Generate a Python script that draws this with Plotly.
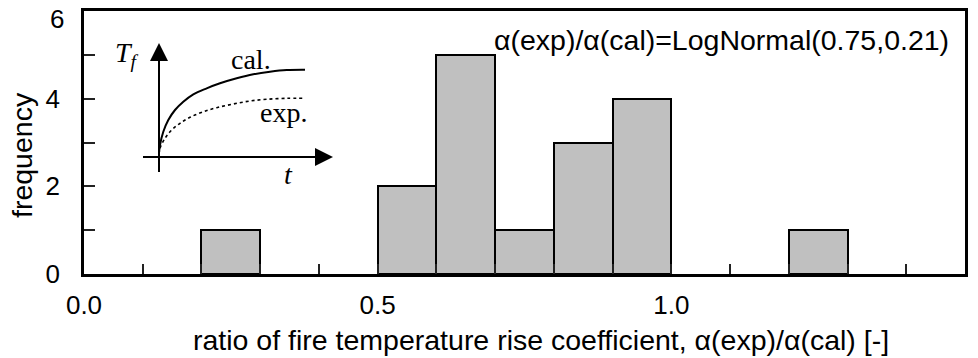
import plotly.graph_objects as go

# ---- data ----
bin_start = [0.2, 0.5, 0.6, 0.7, 0.8, 0.9, 1.2]
bin_width = 0.1
counts = [1, 2, 5, 1, 3, 4, 1]

x_tick_vals = [0.0, 0.5, 1.0, 1.5]
y_tick_vals = [0, 2, 4]
y_top_label = "6"

fit_text = "α(exp)/α(cal)=LogNormal(0.75,0.21)"
x_title = "ratio of fire temperature rise coefficient, α(exp)/α(cal) [-]"
y_title = "frequency"

# inset schematic curves (inset units)
cal_t = [0, 1, 4.3, 9.3, 16, 24.3, 34.3, 47.7, 61, 77.7, 94.3, 111, 127.7, 146]
cal_T = [4, 12, 25.3, 37, 47, 55.3, 62.7, 68.7, 73.7, 78.7, 82.7, 85.3, 87, 87.3]
exp_t = [0, 1, 6, 12.7, 21, 31, 44.3, 57.7, 74.3, 91, 107.7, 127.7, 146]
exp_T = [3, 8.7, 18.7, 27, 33.7, 39.7, 45.3, 49.3, 53, 56, 57.7, 58.7, 58.7]

# inset axes (schematic, inset units)
inset_t_axis_x = [-16, 160]
inset_t_axis_y = [0, 0]
inset_T_axis_x = [0, 0]
inset_T_axis_y = [-15, 100]
arrow_tip_x = [174, 0]
arrow_tip_y = [0, 114]
arrow_symbols = ["arrow-right", "arrow-up"]

# ---- layout geometry (pixels) ----
W, H = 978, 358
L, R, T, B = 84, 13, 11, 84
PW, PH = W - L - R, H - T - B
X0_PX, Y0_PX = 159, 157  # inset origin

def px_x(p):
    return (p - L) / PW

def px_y(p):
    return (H - B - p) / PH

fig = go.Figure()

fig.add_trace(go.Bar(
    x=[s + bin_width / 2 for s in bin_start], y=counts, width=bin_width,
    marker=dict(color="#c0c0c0", line=dict(color="black", width=2)),
    showlegend=False, hoverinfo="skip",
))

# inset axes
for xs, ys in [(inset_t_axis_x, inset_t_axis_y), (inset_T_axis_x, inset_T_axis_y)]:
    fig.add_trace(go.Scatter(
        x=xs, y=ys, mode="lines", xaxis="x2", yaxis="y2",
        line=dict(color="black", width=2), showlegend=False, hoverinfo="skip",
    ))
fig.add_trace(go.Scatter(
    x=arrow_tip_x, y=arrow_tip_y, mode="markers", xaxis="x2", yaxis="y2",
    marker=dict(symbol=arrow_symbols, size=18, color="black", line=dict(width=0)),
    showlegend=False, hoverinfo="skip",
))

fig.add_trace(go.Scatter(
    x=cal_t, y=cal_T, mode="lines", xaxis="x2", yaxis="y2",
    line=dict(color="black", width=2, shape="spline"), showlegend=False,
))
fig.add_trace(go.Scatter(
    x=exp_t, y=exp_T, mode="lines", xaxis="x2", yaxis="y2",
    line=dict(color="black", width=1.6, dash="dot", shape="spline"), showlegend=False,
))

font_sans = "Liberation Sans, Arial, sans-serif"
font_serif = "Liberation Serif, Times New Roman, serif"

annotations = [
    dict(text=fit_text, x=px_x(721), y=px_y(40), xref="paper", yref="paper",
         showarrow=False, font=dict(size=28.5, family=font_sans, color="black"),
         xanchor="center", yanchor="middle"),
    dict(text=x_title, x=px_x(541), y=px_y(340), xref="paper", yref="paper",
         showarrow=False, font=dict(size=28.5, family=font_sans, color="black"),
         xanchor="center", yanchor="middle"),
    dict(text=y_title, x=px_x(22), y=px_y(155), xref="paper", yref="paper",
         showarrow=False, textangle=-90,
         font=dict(size=28.5, family=font_sans, color="black"),
         xanchor="center", yanchor="middle"),
    # top y tick label, nudged down inside the page like the reference
    dict(text=y_top_label, x=px_x(66), y=px_y(19), xref="paper", yref="paper",
         showarrow=False, font=dict(size=26, family=font_sans, color="black"),
         xanchor="right", yanchor="middle"),
    dict(text="cal.", x=92, y=98, xref="x2", yref="y2", showarrow=False,
         font=dict(size=28, family=font_serif, color="black")),
    dict(text="exp.", x=124.5, y=45, xref="x2", yref="y2", showarrow=False,
         font=dict(size=28, family=font_serif, color="black")),
    dict(text="<i>T</i><sub><i>f</i></sub>", x=-32, y=103, xref="x2", yref="y2",
         showarrow=False, font=dict(size=28, family=font_serif, color="black")),
    dict(text="<i>t</i>", x=129, y=-17, xref="x2", yref="y2", showarrow=False,
         font=dict(size=28, family=font_serif, color="black")),
]

fig.update_layout(
    width=W, height=H,
    margin=dict(l=L, r=R, t=T, b=B, autoexpand=False),
    paper_bgcolor="white", plot_bgcolor="white",
    bargap=0,
    font=dict(family=font_sans, color="black", size=26),
    xaxis=dict(
        range=[0, 1.5], tickvals=x_tick_vals, tickformat=".1f",
        ticks="inside", ticklen=10, tickwidth=1.5, tickcolor="#222",
        minor=dict(dtick=0.1, ticks="inside", ticklen=10, tickwidth=1.5, tickcolor="#222"),
        showline=True, linecolor="black", linewidth=2.5, mirror=True,
        showgrid=False, zeroline=False, ticklabelstandoff=6,
        automargin=False, tickfont=dict(size=26),
    ),
    yaxis=dict(
        range=[0, 6], tickvals=y_tick_vals,
        ticks="inside", ticklen=11, tickwidth=1.5, tickcolor="#222",
        minor=dict(dtick=1, ticks="inside", ticklen=11, tickwidth=1.5, tickcolor="#222"),
        showline=True, linecolor="black", linewidth=2.5, mirror=True,
        showgrid=False, zeroline=False, ticklabelstandoff=16,
        automargin=False, tickfont=dict(size=26),
    ),
    xaxis2=dict(domain=[px_x(119), px_x(339)], range=[119 - X0_PX, 339 - X0_PX],
                anchor="y2", visible=False, fixedrange=True),
    yaxis2=dict(domain=[px_y(190), px_y(35)], range=[Y0_PX - 190, Y0_PX - 35],
                anchor="x2", visible=False, fixedrange=True),
    annotations=annotations,
)

fig.write_html("out.html")
